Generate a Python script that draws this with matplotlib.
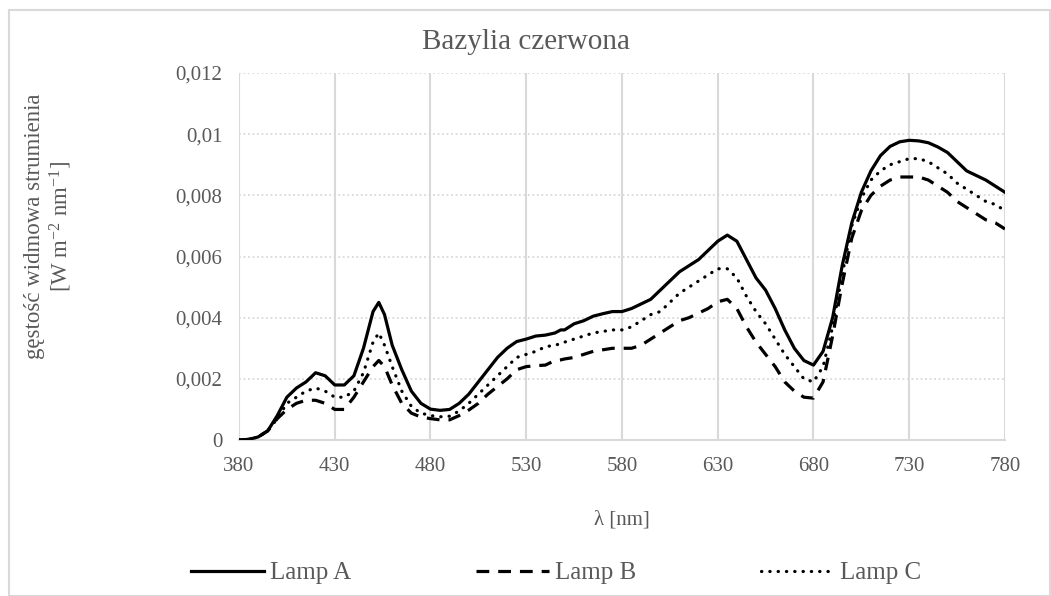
import matplotlib
matplotlib.use('Agg')
import matplotlib.pyplot as plt
from matplotlib.patches import Rectangle
from matplotlib.ticker import FuncFormatter

plt.rcParams['font.family'] = ['Liberation Serif', 'DejaVu Serif']
plt.rcParams['mathtext.fontset'] = 'custom'
plt.rcParams['mathtext.rm'] = 'Liberation Serif'
plt.rcParams['mathtext.it'] = 'Liberation Serif:italic'

# wavelength [nm]
wl = [380, 385, 390, 395, 400, 405, 410, 415, 420, 425, 430, 435, 440, 445, 450,
      453, 456, 460, 465, 470, 475, 480, 485, 490, 495, 500, 505, 510, 515, 520,
      525, 530, 535, 540, 545, 548, 550, 555, 560, 565, 570, 575, 580, 585, 590,
      595, 600, 605, 610, 615, 620, 625, 630, 635, 640, 645, 650, 655, 660, 665,
      670, 675, 680, 685, 690, 695, 700, 705, 710, 715, 720, 725, 730, 735, 740,
      745, 750, 755, 760, 765, 770, 775, 780]

lamp_a = [0, 0.00002, 0.0001, 0.0003, 0.0008, 0.0014, 0.0017, 0.0019, 0.0022, 0.0021,
          0.0018, 0.0018, 0.0021, 0.0030, 0.0042, 0.0045, 0.0041, 0.0031, 0.0023, 0.0016,
          0.0012, 0.00101, 0.00097, 0.0010, 0.0012, 0.0015, 0.0019, 0.0023, 0.0027, 0.0030,
          0.00322, 0.0033, 0.0034, 0.00343, 0.0035, 0.0036, 0.0036, 0.0038, 0.0039, 0.00405,
          0.00413, 0.0042, 0.0042, 0.0043, 0.00445, 0.0046, 0.0049, 0.0052, 0.0055, 0.0057,
          0.0059, 0.0062, 0.0065, 0.0067, 0.0065, 0.0059, 0.0053, 0.0049, 0.0043, 0.0036,
          0.0030, 0.0026, 0.00245, 0.0029, 0.0040, 0.0057, 0.0071, 0.0081, 0.0088, 0.0093,
          0.0096, 0.00975, 0.0098, 0.00978, 0.00972, 0.00958, 0.0094, 0.0091, 0.0088, 0.00865,
          0.0085, 0.0083, 0.0081]

lamp_b = [0, 0.00002, 0.0001, 0.0003, 0.0007, 0.0010, 0.0012, 0.0013, 0.0013, 0.0012,
          0.0010, 0.0010, 0.0014, 0.0019, 0.0024, 0.0026, 0.0024, 0.0018, 0.0012, 0.00088,
          0.00075, 0.0007, 0.00066, 0.00066, 0.0008, 0.00098, 0.0012, 0.0015, 0.00175, 0.0020,
          0.0023, 0.0024, 0.00243, 0.00245, 0.0026, 0.00262, 0.00265, 0.0027, 0.0028, 0.0029,
          0.00295, 0.0030, 0.0030, 0.0030, 0.0031, 0.0033, 0.0035, 0.0037, 0.0039, 0.0040,
          0.00415, 0.0043, 0.00452, 0.0046, 0.0043, 0.0037, 0.0032, 0.0028, 0.0024, 0.0019,
          0.0016, 0.0014, 0.00137, 0.0019, 0.0034, 0.0051, 0.0066, 0.0075, 0.0080, 0.0083,
          0.0085, 0.0086, 0.0086, 0.0086, 0.0085, 0.0083, 0.0081, 0.0078, 0.0076, 0.0074,
          0.0072, 0.0071, 0.0069]

lamp_c = [0, 0.00002, 0.0001, 0.0003, 0.0007, 0.0012, 0.0014, 0.0016, 0.0017, 0.0016,
          0.0014, 0.0014, 0.0016, 0.0022, 0.0032, 0.0035, 0.0031, 0.0024, 0.0016, 0.0011,
          0.00088, 0.0008, 0.00076, 0.00078, 0.00095, 0.0012, 0.0015, 0.0018, 0.0021, 0.0024,
          0.0027, 0.0028, 0.0029, 0.00305, 0.0031, 0.00315, 0.0032, 0.0033, 0.0034, 0.0035,
          0.00355, 0.0036, 0.0036, 0.0037, 0.0039, 0.0041, 0.0042, 0.0045, 0.0048, 0.0050,
          0.0052, 0.0054, 0.0056, 0.0056, 0.0053, 0.0047, 0.0042, 0.0038, 0.0033, 0.0028,
          0.0024, 0.0020, 0.0019, 0.0024, 0.0037, 0.0054, 0.0070, 0.0079, 0.0085, 0.0088,
          0.0090, 0.0091, 0.0092, 0.0092, 0.0091, 0.0089, 0.0087, 0.0084, 0.0082, 0.0080,
          0.0078, 0.0077, 0.0075]

x_ticks = [380, 430, 480, 530, 580, 630, 680, 730, 780]
y_ticks = [0, 0.002, 0.004, 0.006, 0.008, 0.01, 0.012]

txt = '#595959'
grid = '#d9d9d9'

fig = plt.figure(figsize=(10.51, 5.96), dpi=100)
ax = fig.add_axes([0.2274, 0.2617, 0.7288, 0.6158])

ax.plot(wl, lamp_a, color='black', lw=2.3, ls='-', solid_joinstyle='round',
        label='Lamp A', zorder=3)
ax.plot(wl, lamp_b, color='black', lw=2.3, ls=(0, (4, 2.8)), dash_joinstyle='round',
        label='Lamp B', zorder=3)
ax.plot(wl, lamp_c, color='black', lw=2.3, ls=(0, (0.1, 2.5)), dash_capstyle='round',
        label='Lamp C', zorder=3)

ax.set_xlim(380, 780)
ax.set_ylim(0, 0.012)
ax.set_xticks(x_ticks)
ax.set_yticks(y_ticks)
ax.yaxis.set_major_formatter(FuncFormatter(lambda v, p: ('%g' % v).replace('.', ',')))

for x in x_ticks:
    ax.axvline(x, color=grid, lw=1.5, zorder=1)
for y in y_ticks[1:]:
    ax.axhline(y, color=grid, lw=1.3, ls=(0, (1, 1.5)), zorder=1)

for s in ['top', 'right', 'left']:
    ax.spines[s].set_visible(False)
ax.spines['bottom'].set_color(grid)
ax.spines['bottom'].set_linewidth(1.5)
ax.tick_params(length=0, labelsize=15, colors=txt, pad=12)

fig.text(0.5, 1 - 42 / 596, 'Bazylia czerwona', ha='center', va='center', fontsize=21, color=txt)
fig.text(622 / 1051, 1 - 520 / 596, 'λ [nm]', ha='center', va='center', fontsize=15, color=txt)
fig.text(49 / 1051, 1 - 226 / 596, 'gęstość widmowa strumienia\n[W m$^{-2}$ nm$^{-1}$]',
         ha='center', va='center', rotation=90, fontsize=16.5, color=txt,
         multialignment='center', linespacing=1.1)

leg = fig.legend(loc='center', bbox_to_anchor=(556 / 1051, 1 - 573 / 596), ncol=3,
                 frameon=False, fontsize=18, handlelength=2.9, handletextpad=0.25,
                 columnspacing=5.0)
for t in leg.get_texts():
    t.set_color(txt)

fig.add_artist(Rectangle((9 / 1051, 0), 1 - 10 / 1051, 1 - 10 / 596, transform=fig.transFigure,
                         fill=False, edgecolor=grid, lw=1.5))

fig.savefig('out.png', dpi=100)
